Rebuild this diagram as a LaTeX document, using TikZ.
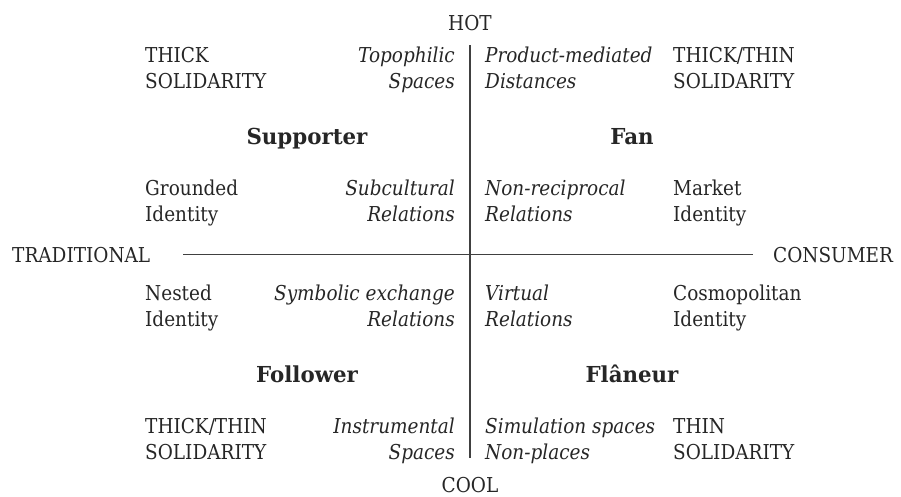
\documentclass[tikz,border=0pt]{standalone}
\usepackage{fontspec}
\setmainfont{DejaVu Serif}[FakeStretch=0.9, BoldFeatures={FakeStretch=0.97}]
\usepackage{xcolor}
\usetikzlibrary{positioning}

\begin{document}
\fontsize{20.5}{26}\selectfont
\begin{tikzpicture}[x=1pt, y=-1pt, text=black!85, draw=black!75]
		\tikzstyle{pole}=[inner sep=0pt]
		\tikzstyle{lcol}=[inner sep=0pt, anchor=base west, align=left]
		\tikzstyle{rcol}=[inner sep=0pt, anchor=base east, align=right, font=\itshape]
		\tikzstyle{mcol}=[inner sep=0pt, anchor=base west, align=left, font=\itshape]
		\tikzstyle{role}=[inner sep=0pt, anchor=base, font=\fontsize{22}{26}\selectfont\bfseries]
		
		\useasboundingbox (0,0) rectangle (901,496);
		
		% axes
		\node[pole, anchor=base] (hot) at (470,30) {HOT};
		\node[pole, anchor=base] (cool) at (470,492) {COOL};
		\node[pole, anchor=base west] (trad) at (12,262) {TRADITIONAL};
		\node[pole, anchor=base west] (cons) at (773,262) {CONSUMER};
		
		\draw[line width=1.2pt, shorten <=15pt, shorten >=19pt] (hot.south) -- (cool.north);
		\draw[line width=1.2pt, shorten <=33pt, shorten >=20pt] (trad.east) -- (cons.west);
		
		% hot / traditional
		\node[lcol] (solA) at (145,88) {THICK\\SOLIDARITY};
		\node[rcol] (spaA) at (455,88) {Topophilic\\Spaces};
		\node[role] (supp) at (307,144) {Supporter};
		\node[lcol] (idA) at (145,221) {Grounded\\Identity};
		\node[rcol] (relA) at (455,221) {Subcultural\\Relations};
		
		% hot / consumer
		\node[mcol] (spaB) at (485,88) {Product-mediated\\Distances};
		\node[lcol] (solB) at (673,88) {THICK/THIN\\SOLIDARITY};
		\node[role] (fan) at (632,144) {Fan};
		\node[mcol] (relB) at (485,221) {Non-reciprocal\\Relations};
		\node[lcol] (idB) at (673,221) {Market\\Identity};
		
		% cool / traditional
		\node[lcol] (idC) at (145,326) {Nested\\Identity};
		\node[rcol] (relC) at (455,326) {Symbolic exchange\\Relations};
		\node[role] (foll) at (307,382) {Follower};
		\node[lcol] (solC) at (145,459) {THICK/THIN\\SOLIDARITY};
		\node[rcol] (spaC) at (455,459) {Instrumental\\Spaces};
		
		% cool / consumer
		\node[mcol] (relD) at (485,326) {Virtual\\Relations};
		\node[lcol] (idD) at (673,326) {Cosmopolitan\\Identity};
		\node[role] (flan) at (632,382) {Flâneur};
		\node[mcol] (spaD) at (485,459) {Simulation spaces\\Non-places};
		\node[lcol] (solD) at (673,459) {THIN\\SOLIDARITY};
	\end{tikzpicture}
\end{document}
